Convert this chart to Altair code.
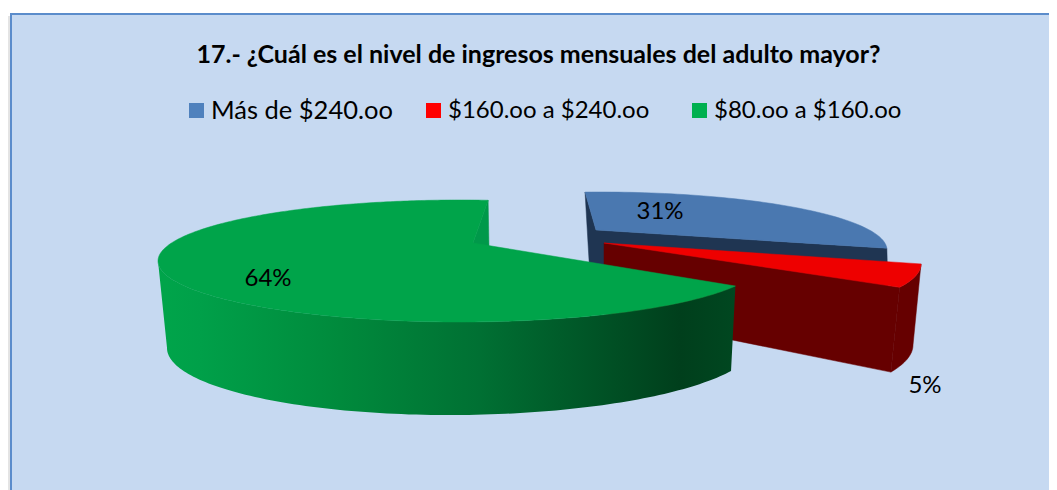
import numpy as np
import pandas as pd
import altair as alt

TITLE = "17.- ¿Cuál es el nivel de ingresos mensuales del adulto mayor?"
categories = ["Más de $240.oo", "$160.oo a $240.oo", "$80.oo a $160.oo"]
shares = [31, 5, 64]
swatches = ["#4F81BD", "#FF0000", "#00B050"]
top_colors = ["#4A78B0", "#EE0000", "#00A44A"]
wall_colors = ["#1F3552", "#660000", "#00994A"]

W, H = 1041, 482
X0, X1, Y0, Y1 = 8, 1049, 490, 8

# perspective model of each exploded slice: outline ellipses, apex, disc warp
geom = [
    dict(top=(600, 250, 287, 58, 0), bot=(604, 330, 285, 68, 0), apex=(596, 230), apex_b=(598, 310),
         warp=complex(-0.007, 0.177), start=93.3, sign=-1),
    dict(top=(631, 264, 290, 62, 0), bot=(613, 345, 300, 72, 0), apex=(604, 243), apex_b=(604, 314),
         warp=complex(-0.048, 0.176), start=-19.0, sign=-1),
    dict(top=(460, 261, 302, 61, 0), bot=(462, 345, 295, 70, 3), apex=(473, 243), apex_b=(473, 325),
         warp=complex(0.02, 0.203), start=84.8, sign=1),
]
green_stops_x = [165, 200, 340, 480, 560, 680, 735]
green_stops_c = ["#00A44A", "#00A049", "#008A3C", "#007033", "#005C2A", "#003F1C", "#004720"]


def warp_t(phi_deg, a):
    z = np.exp(1j * np.radians(phi_deg))
    return np.angle((z + a) / (1 + np.conj(a) * z))


def ell(e, t):
    return e[0] + e[2] * np.cos(t), e[1] - e[3] * np.sin(t) - e[4] * np.cos(t)


pid = 0


def poly(rows, color, xs, ys):
    global pid
    pid += 1
    for i, (x, y) in enumerate(zip(xs, ys)):
        rows.append(dict(pid=f"p{pid:04d}", seq=i, x=float(x), y=float(y), c=color))


def arc(g, share, n):
    span = share * 3.6
    phis = g["start"] + g["sign"] * np.linspace(0, span, n)
    return warp_t(phis, g["warp"])


base, side, front = [], [], []

# blue
g = geom[0]
t = arc(g, shares[0], 60)
tx, ty = ell(g["top"], t)
bx, by = ell(g["bot"], t)
poly(base, wall_colors[0], [tx[0], bx[0], g["apex_b"][0], bx[-1], tx[-1], g["apex"][0]],
     [ty[0], by[0], g["apex_b"][1], by[-1], ty[-1], g["apex"][1]])
poly(base, top_colors[0], [g["apex"][0], *tx], [g["apex"][1], *ty])

# red
g = geom[1]
t = arc(g, shares[1], 20)
tx, ty = ell(g["top"], t)
bx, by = ell(g["bot"], t)
poly(base, wall_colors[1], [*tx, *bx[::-1]], [*ty, *by[::-1]])
poly(base, wall_colors[1], [g["apex"][0], tx[-1], bx[-1], g["apex_b"][0]],
     [g["apex"][1], ty[-1], by[-1], g["apex_b"][1]])
poly(base, top_colors[1], [g["apex"][0], *tx], [g["apex"][1], *ty])

# green
g = geom[2]
t = arc(g, shares[2], 240)
tx, ty = ell(g["top"], t)
bx, by = ell(g["bot"], t)
poly(base, wall_colors[2], [tx[0], bx[0], g["apex_b"][0], g["apex"][0]],
     [ty[0], by[0], g["apex_b"][1], g["apex"][1]])
k = int(np.argmin(tx))
sx = [*tx[k:], *bx[k:][::-1]]
sy = [*ty[k:], *by[k:][::-1]]
poly(side, "side", sx, sy)
poly(front, top_colors[2], [g["apex"][0], *tx], [g["apex"][1], *ty])

xmin, xmax = min(sx), max(sx)
gradient = dict(
    gradient="linear", x1=0, x2=1, y1=0, y2=0,
    stops=[dict(offset=float(np.clip((x - xmin) / (xmax - xmin), 0, 1)), color=c)
           for x, c in zip(green_stops_x, green_stops_c)],
)

xs = alt.Scale(domain=[X0, X1], nice=False, zero=False)
ys = alt.Scale(domain=[Y0, Y1], nice=False, zero=False)
X = lambda f: alt.X(f, type="quantitative", scale=xs, axis=None)
Y = lambda f: alt.Y(f, type="quantitative", scale=ys, axis=None)

panel = alt.Chart(pd.DataFrame([dict(x=11, x2=1070, y=14, y2=500)])).mark_rect(
    fill="#C6D9F1", stroke="#5B8CCB", strokeWidth=2, clip=True
).encode(x=X("x"), x2="x2", y=Y("y"), y2="y2")
shadow = alt.Chart(pd.DataFrame([dict(x=8, x2=10, y=16, y2=490)])).mark_rect(fill="#E4E4E4").encode(
    x=X("x"), x2="x2", y=Y("y"), y2="y2")


def flat(rows):
    return alt.Chart(pd.DataFrame(rows)).mark_line(filled=True, interpolate="linear-closed", strokeWidth=0.5).encode(
        x=X("x"), y=Y("y"), detail="pid:N", order="seq:Q",
        fill=alt.Fill("c:N", scale=None), stroke=alt.Stroke("c:N", scale=None),
    )


pie_base = flat(base)
pie_side = alt.Chart(pd.DataFrame(side)).mark_line(
    filled=True, interpolate="linear-closed", fill=gradient, strokeWidth=0
).encode(x=X("x"), y=Y("y"), order="seq:Q")
pie_front = flat(front)

title = alt.Chart(pd.DataFrame([dict(x=538.5, y=55, t=TITLE)])).mark_text(
    font="Lato", fontWeight="bold", fontSize=25, baseline="middle", align="center", color="#000000"
).encode(x=X("x"), y=Y("y"), text="t:N")

leg_x = [189, 426, 692]
leg_size = [25.5, 24, 24]
sw = pd.DataFrame([dict(x=a, x2=a + 15, y=103, y2=118, c=c) for a, c in zip(leg_x, swatches)])
leg_sw = alt.Chart(sw).mark_rect().encode(
    x=X("x"), x2="x2", y=Y("y"), y2="y2", fill=alt.Fill("c:N", scale=None))
leg_t = alt.layer(*[
    alt.Chart(pd.DataFrame([dict(x=a + 22, y=111, t=s)])).mark_text(
        font="Lato", fontSize=fs, align="left", baseline="middle", color="#000000"
    ).encode(x=X("x"), y=Y("y"), text="t:N")
    for a, s, fs in zip(leg_x, categories, leg_size)
])

lab = pd.DataFrame([dict(x=x, y=y, t=f"{s}%") for (x, y), s in zip([(660, 212), (925, 386), (268, 279)], shares)])
labels = alt.Chart(lab).mark_text(font="Lato", fontSize=24, align="center", baseline="middle", color="#000000").encode(
    x=X("x"), y=Y("y"), text="t:N")

chart = alt.layer(shadow, panel, pie_base, pie_side, pie_front, title, leg_sw, leg_t, labels).properties(
    width=W, height=H, padding=0, autosize=alt.AutoSizeParams(type="none"),
    background="#FFFFFF",
).configure_view(stroke=None)

chart.save("out.html", embed_options={"renderer": "svg", "actions": False})
